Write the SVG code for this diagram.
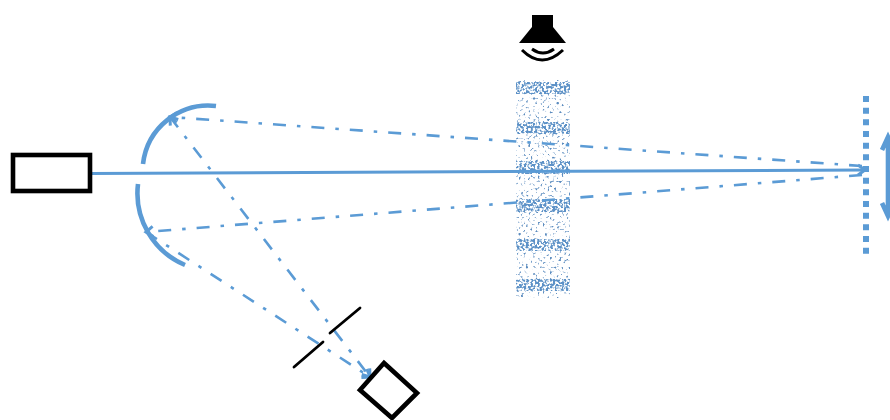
<svg xmlns="http://www.w3.org/2000/svg" width="890" height="420" viewBox="0 0 890 420">
<style>
.k{fill:#fff;stroke:#000;stroke-width:4.6}
.s{fill:none;stroke:#000;stroke-width:2.8;stroke-linecap:round}
.b{fill:none;stroke:#5b9bd5}
.dd{stroke-width:2.6;stroke-dasharray:13 11 3.5 11}
.m{stroke-width:4.6}
</style>
<defs>
<marker id="a" markerUnits="userSpaceOnUse" markerWidth="20" markerHeight="20" refX="15" refY="10" orient="auto"><path d="M8 5L15 10L8 15" fill="none" stroke="#5b9bd5" stroke-width="3"/></marker>
<marker id="as" markerUnits="userSpaceOnUse" markerWidth="20" markerHeight="20" refX="15" refY="10" orient="auto-start-reverse"><path d="M8 5L15 10L8 15" fill="none" stroke="#5b9bd5" stroke-width="3"/></marker>
<filter id="sparse" x="0" y="0" width="1" height="1" color-interpolation-filters="sRGB"><feTurbulence type="fractalNoise" baseFrequency="0.42" numOctaves="1" seed="7"/><feColorMatrix values="0 0 0 0 0.36 0 0 0 0 0.55 0 0 0 0 0.75 7 0 0 0 -4.1"/><feComposite in2="SourceAlpha" operator="in"/></filter>
<filter id="dense" x="0" y="0" width="1" height="1" color-interpolation-filters="sRGB"><feTurbulence type="fractalNoise" baseFrequency="0.45" numOctaves="1" seed="3"/><feColorMatrix values="0 0 0 0 0.36 0 0 0 0 0.57 0 0 0 0 0.78 7 0 0 0 -3.1"/><feComposite in2="SourceAlpha" operator="in"/></filter>
</defs>
<rect width="890" height="420" fill="#fff"/>
<g id="medium">
<rect x="516" y="80" width="54" height="218" filter="url(#sparse)"/>
<g filter="url(#dense)"><rect x="516" y="82" width="54" height="12"/><rect x="516" y="122" width="54" height="12"/><rect x="516" y="161" width="54" height="13"/><rect x="516" y="199" width="54" height="13"/><rect x="516" y="239" width="54" height="12"/><rect x="516" y="279" width="54" height="12"/></g>
</g>
<g id="connectors">
<path class="b" stroke-width="3" d="M90 173.5L865 170" marker-end="url(#a)"/>
<path class="b dd" d="M862 166L170 117" marker-end="url(#a)"/>
<path class="b dd" d="M862 175L146 232" marker-end="url(#a)"/>
<path class="b dd" d="M170 117L370 377" marker-start="url(#as)" marker-end="url(#a)"/>
<path class="b dd" d="M146 232L370 377" marker-end="url(#a)"/>
</g>
<g id="source"><rect class="k" x="13" y="155" width="77" height="36"/></g>
<g id="mirror-upper"><path class="b m" d="M216 106A66 66 0 0 0 143 164"/></g>
<g id="mirror-lower"><path class="b m" d="M138 184A78 78 0 0 0 185 265"/></g>
<g id="speaker">
<path d="M532 15H553V27L566 43H519L532 27Z" fill="#000"/>
<path d="M532 49Q543 57 554 49M522 50Q542 70 563 50" fill="none" stroke="#000" stroke-width="3"/>
</g>
<g id="grating"><path class="b" stroke-width="6" stroke-dasharray="6 5.67" d="M866 96V254"/></g>
<g id="motion"><path class="b" stroke-width="4.6" d="M888 137V216M882 150L888 137L894 150M882 203L888 216L894 203"/></g>
<g id="slit"><path class="s" d="M360 308L330 333M323 342L294 367"/></g>
<g id="detector"><path class="k" d="M384 363L417 393L392 418L360 390Z"/></g>
</svg>
